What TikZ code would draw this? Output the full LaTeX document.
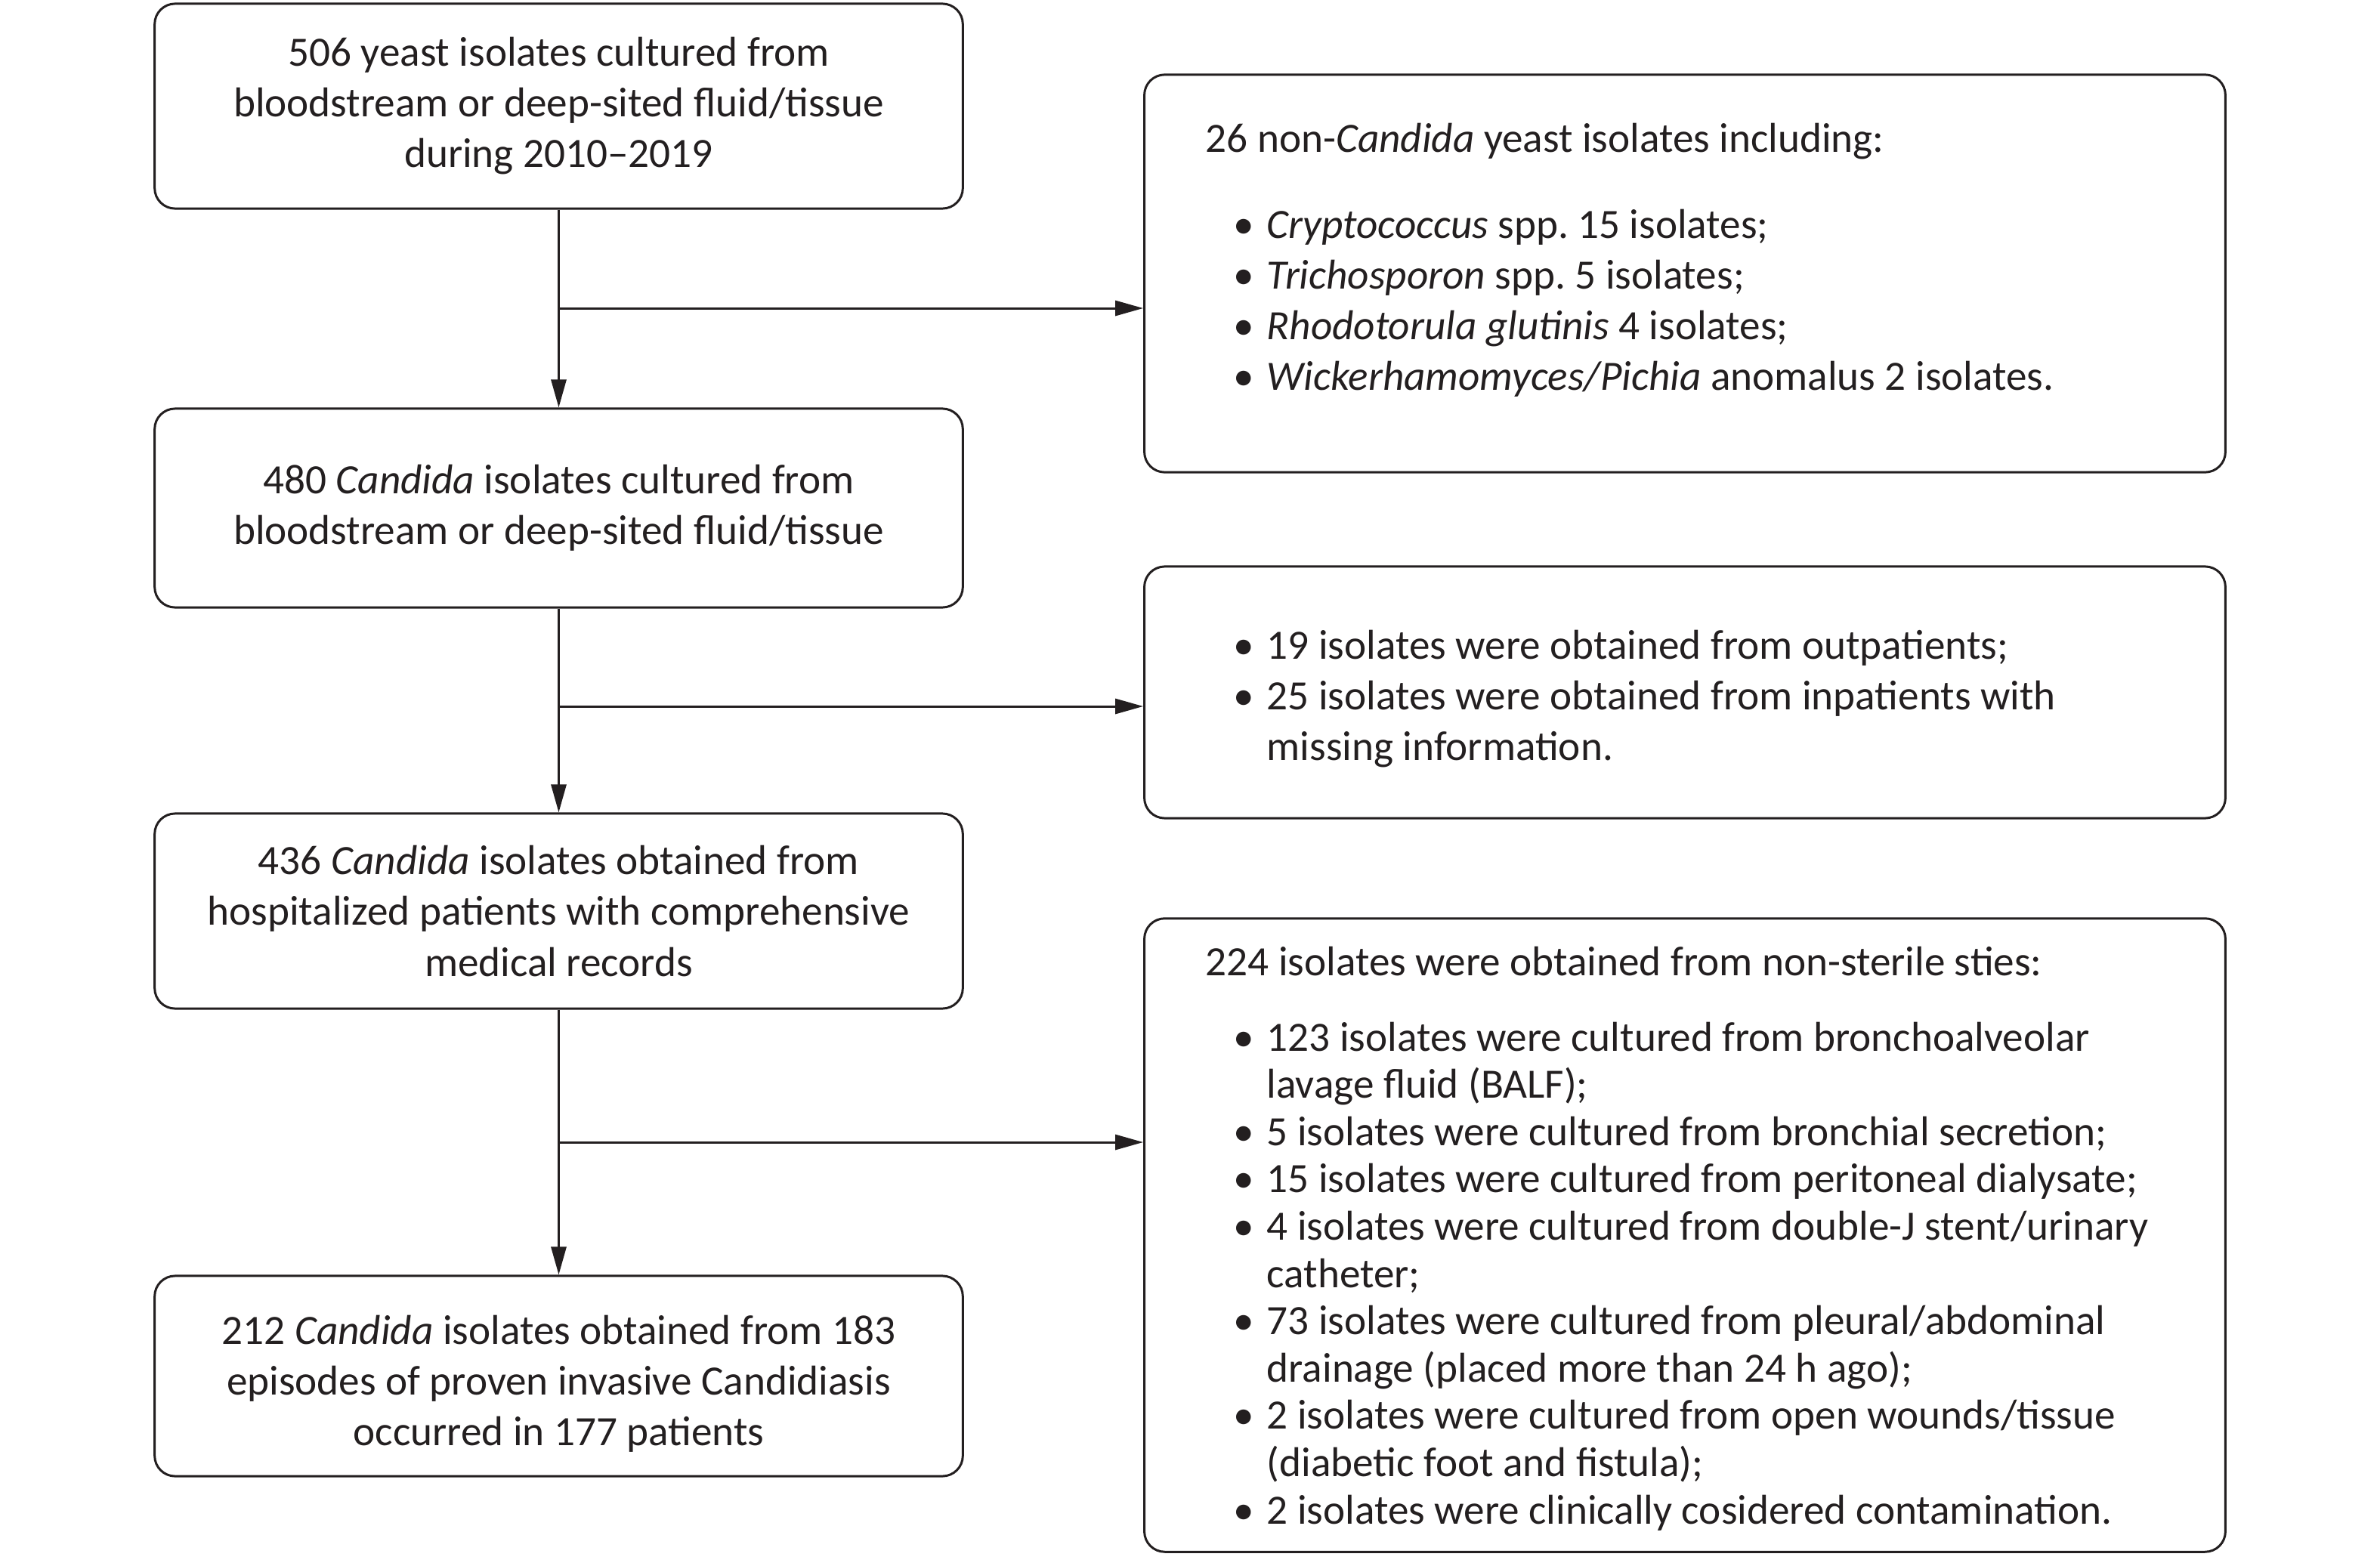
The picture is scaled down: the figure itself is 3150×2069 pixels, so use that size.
\documentclass[tikz,border=0pt]{standalone}
\usepackage{fontspec}
\setmainfont{Carlito}
\usetikzlibrary{arrows.meta}
\definecolor{ink}{RGB}{35,31,32}
\newcommand{\bul}{\makebox[0.44cm][l]{\textbullet}}
\newcommand{\ind}{\hspace*{0.37cm}}
\newcommand{\cnt}{\hspace*{0.81cm}}
\frenchspacing
\begin{document}
\begin{tikzpicture}[x=0.01cm,y=-0.01cm,
  frame/.style={draw=ink,line width=0.85pt,rounded corners=0.27cm,inner sep=0pt},
  lbox/.style={frame,minimum width=10.69cm,align=center,text=ink,font=\fontsize{15.7}{19.06}\selectfont},
  ltext/.style={inner sep=0pt,align=center,text=ink,font=\fontsize{15.7}{19.06}\selectfont},
  rbox/.style={frame,minimum width=14.30cm},
  rtext/.style={anchor=north west,inner sep=0pt,align=left,text=ink,font=\fontsize{15.7}{19.06}\selectfont},
  arr/.style={draw=ink,line width=0.85pt,-{Triangle[length=0.37cm,width=0.2cm]}}]
\useasboundingbox (0,0) rectangle (3150,2069);

\node[lbox,minimum height=2.71cm] (b1) at (739.5,140.5)
  {506 yeast isolates cultured from\\bloodstream or deep-sited fluid/tissue\\during 2010--2019};
\node[lbox,minimum height=2.63cm] (b3) at (739.5,672.5)
  {480 \textit{Candida} isolates cultured from\\bloodstream or deep-sited fluid/tissue};
\node[lbox,minimum height=2.58cm] (b5) at (739.5,1206)
  {436 \textit{Candida} isolates obtained from\\hospitalized patients with comprehensive\\medical records};
\node[lbox,minimum height=2.65cm] (b7) at (739.5,1821.5) {};
\node[ltext] (t7) at (739.5,1831.5)
  {212 \textit{Candida} isolates obtained from 183\\episodes of proven invasive Candidiasis\\occurred in 177 patients};

\node[rbox,minimum height=5.26cm] (b2) at (2230,362) {};
\node[rbox,minimum height=3.33cm] (b4) at (2230,916.5) {};
\node[rbox,minimum height=8.38cm] (b6) at (2230,1635) {};

\node[rtext] (t2) at (1595,162)
  {26 non-\textit{Candida} yeast isolates including:\\[0.47cm]
   \ind\bul\textit{Cryptococcus} spp. 15 isolates;\\
   \ind\bul\textit{Trichosporon} spp. 5 isolates;\\
   \ind\bul\textit{Rhodotorula glutinis} 4 isolates;\\
   \ind\bul\textit{Wickerhamomyces/Pichia} anomalus 2 isolates.};
\node[rtext] (t4) at (1595,833)
  {\ind\bul 19 isolates were obtained from outpatients;\\
   \ind\bul 25 isolates were obtained from inpatients with\\
   \cnt missing information.};
\node[rtext,font=\fontsize{15.7}{17.8}\selectfont] (t6) at (1595,1252)
  {224 isolates were obtained from non-sterile sties:\\[0.374cm]
   \ind\bul 123 isolates were cultured from bronchoalveolar\\
   \cnt lavage fluid (BALF);\\
   \ind\bul 5 isolates were cultured from bronchial secretion;\\
   \ind\bul 15 isolates were cultured from peritoneal dialysate;\\
   \ind\bul 4 isolates were cultured from double-J stent/urinary\\
   \cnt catheter;\\
   \ind\bul 73 isolates were cultured from pleural/abdominal\\
   \cnt drainage (placed more than 24 h ago);\\
   \ind\bul 2 isolates were cultured from open wounds/tissue\\
   \cnt (diabetic foot and fistula);\\
   \ind\bul 2 isolates were clinically cosidered contamination.};

\coordinate (j1) at (739.5,408);
\coordinate (j2) at (739.5,935);
\coordinate (j3) at (739.5,1512);

\draw[arr] (b1.south) -- (b3.north);
\draw[arr] (b3.south) -- (b5.north);
\draw[arr] (b5.south) -- (b7.north);
\draw[arr] (j1) -- (j1 -| b2.west);
\draw[arr] (j2) -- (j2 -| b4.west);
\draw[arr] (j3) -- (j3 -| b6.west);
\end{tikzpicture}
\end{document}
